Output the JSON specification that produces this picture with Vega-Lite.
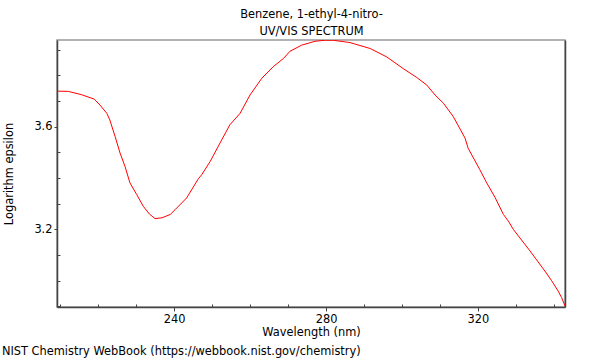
{
  "$schema": "https://vega.github.io/schema/vega-lite/v6.json",
  "width": 508,
  "height": 267,
  "autosize": "none",
  "padding": {"left": 57, "top": 40, "right": 35, "bottom": 53},
  "config": {
    "view": {"stroke": "#999999", "strokeWidth": 1.5},
    "font": "DejaVu Sans",
    "axis": {"grid": false, "domainColor": "#444444", "tickColor": "#444444", "labelColor": "#000000", "titleColor": "#000000", "labelFontSize": 11.4, "titleFontSize": 11.4, "titleFontWeight": "normal", "labelFont": "DejaVu Sans", "titleFont": "DejaVu Sans"}
  },
  "title": {"text": "NIST Chemistry WebBook (https://webbook.nist.gov/chemistry)", "orient": "bottom", "anchor": "start", "frame": "bounds", "fontSize": 11.4, "fontWeight": "normal", "font": "DejaVu Sans", "color": "#000000", "offset": 8, "dx": -2},
  "data": {"values": [
    {"wavelength": 209.2, "logeps": 3.738},
    {"wavelength": 212.2, "logeps": 3.737},
    {"wavelength": 215.7, "logeps": 3.724},
    {"wavelength": 219.0, "logeps": 3.707},
    {"wavelength": 220.5, "logeps": 3.684},
    {"wavelength": 222.3, "logeps": 3.652},
    {"wavelength": 223.1, "logeps": 3.626},
    {"wavelength": 224.5, "logeps": 3.561},
    {"wavelength": 225.8, "logeps": 3.497},
    {"wavelength": 227.1, "logeps": 3.445},
    {"wavelength": 228.4, "logeps": 3.381},
    {"wavelength": 230.2, "logeps": 3.335},
    {"wavelength": 231.9, "logeps": 3.29},
    {"wavelength": 233.5, "logeps": 3.26},
    {"wavelength": 235.0, "logeps": 3.242},
    {"wavelength": 236.8, "logeps": 3.245},
    {"wavelength": 239.0, "logeps": 3.258},
    {"wavelength": 240.3, "logeps": 3.277},
    {"wavelength": 243.3, "logeps": 3.322},
    {"wavelength": 246.4, "logeps": 3.397},
    {"wavelength": 247.3, "logeps": 3.413},
    {"wavelength": 249.5, "logeps": 3.464},
    {"wavelength": 252.1, "logeps": 3.536},
    {"wavelength": 254.7, "logeps": 3.607},
    {"wavelength": 257.4, "logeps": 3.652},
    {"wavelength": 260.0, "logeps": 3.723},
    {"wavelength": 263.1, "logeps": 3.788},
    {"wavelength": 266.1, "logeps": 3.833},
    {"wavelength": 268.8, "logeps": 3.865},
    {"wavelength": 270.5, "logeps": 3.893},
    {"wavelength": 273.6, "logeps": 3.917},
    {"wavelength": 277.1, "logeps": 3.932},
    {"wavelength": 279.7, "logeps": 3.936},
    {"wavelength": 281.9, "logeps": 3.936},
    {"wavelength": 286.3, "logeps": 3.927},
    {"wavelength": 291.6, "logeps": 3.904},
    {"wavelength": 296.0, "logeps": 3.871},
    {"wavelength": 300.3, "logeps": 3.826},
    {"wavelength": 303.9, "logeps": 3.791},
    {"wavelength": 306.5, "logeps": 3.762},
    {"wavelength": 308.7, "logeps": 3.723},
    {"wavelength": 310.9, "logeps": 3.691},
    {"wavelength": 313.5, "logeps": 3.639},
    {"wavelength": 316.6, "logeps": 3.555},
    {"wavelength": 317.4, "logeps": 3.516},
    {"wavelength": 318.8, "logeps": 3.478},
    {"wavelength": 320.5, "logeps": 3.432},
    {"wavelength": 322.3, "logeps": 3.381},
    {"wavelength": 324.5, "logeps": 3.324},
    {"wavelength": 326.7, "logeps": 3.258},
    {"wavelength": 328.0, "logeps": 3.232},
    {"wavelength": 329.3, "logeps": 3.2},
    {"wavelength": 333.7, "logeps": 3.116},
    {"wavelength": 337.6, "logeps": 3.038},
    {"wavelength": 339.4, "logeps": 3.0},
    {"wavelength": 341.1, "logeps": 2.96},
    {"wavelength": 342.0, "logeps": 2.935},
    {"wavelength": 342.9, "logeps": 2.902}
  ]},
  "layer": [
    {
      "mark": {"type": "line", "color": "#ff0000", "strokeWidth": 1, "clip": true},
      "encoding": {
        "x": {"field": "wavelength", "type": "quantitative", "scale": {"domain": [209.2, 342.9], "nice": false, "zero": false},
              "axis": {"orient": "bottom", "title": "Wavelength (nm)", "values": [240, 280, 320], "tickSize": 4, "labelPadding": 2, "titlePadding": 2, "domainWidth": 1.5}},
        "y": {"field": "logeps", "type": "quantitative", "scale": {"domain": [2.898, 3.937], "nice": false, "zero": false},
              "axis": {"orient": "left", "title": "Logarithm epsilon", "values": [3.2, 3.6], "format": ".1f", "tickSize": 3, "labelPadding": 2, "titlePadding": 19, "domainWidth": 1.5}}
      }
    },
    {
      "mark": {"type": "line", "strokeOpacity": 0},
      "encoding": {
        "x": {"field": "wavelength", "type": "quantitative",
              "axis": {"orient": "top", "title": ["Benzene, 1-ethyl-4-nitro-", "UV/VIS SPECTRUM"], "titleLineHeight": 17, "labels": false, "ticks": false, "domain": false, "titlePadding": 4}},
        "y": {"field": "logeps", "type": "quantitative",
              "axis": {"orient": "right", "title": null, "labels": false, "ticks": false, "domainWidth": 1.5}}
      }
    },
    {
      "mark": {"type": "line", "strokeOpacity": 0},
      "encoding": {
        "x": {"field": "wavelength", "type": "quantitative",
              "axis": {"orient": "bottom", "title": null, "labels": false, "domain": false, "tickSize": -3, "values": [210, 220, 230, 250, 260, 270, 290, 300, 310, 330, 340]}},
        "y": {"field": "logeps", "type": "quantitative",
              "axis": {"orient": "left", "title": null, "labels": false, "domain": false, "tickSize": -3, "values": [2.9, 3.0, 3.1, 3.3, 3.4, 3.5, 3.7, 3.8, 3.9]}}
      }
    }
  ],
  "resolve": {"axis": {"x": "independent", "y": "independent"}}
}
